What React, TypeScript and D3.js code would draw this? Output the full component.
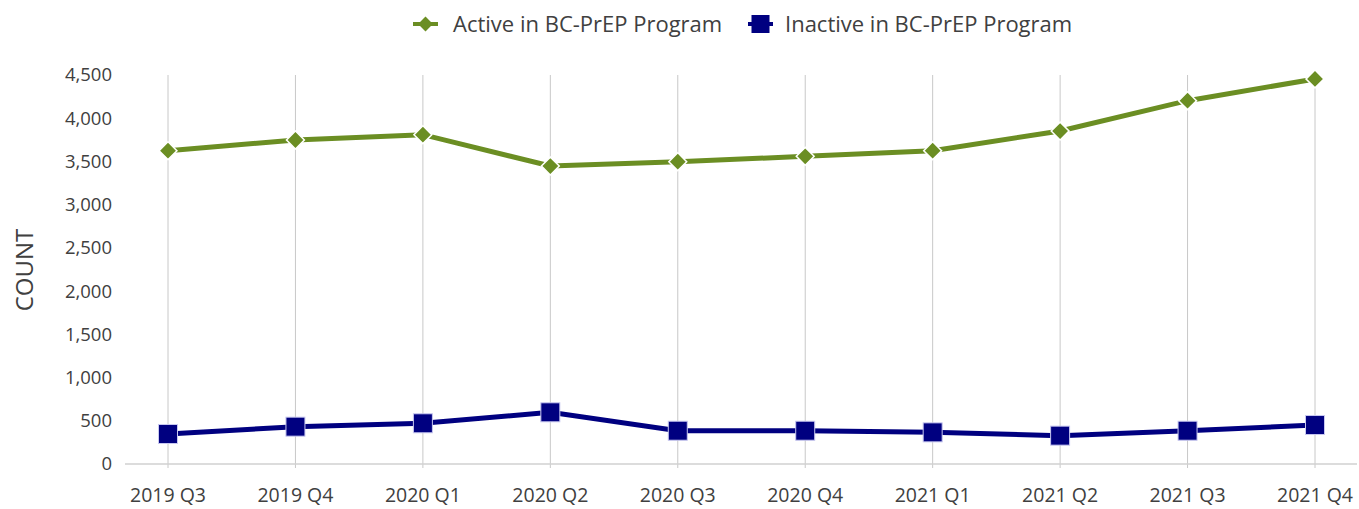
import { useEffect, useRef } from "react";
import * as d3 from "d3";

const quarters = [
	"2019 Q3", "2019 Q4", "2020 Q1", "2020 Q2", "2020 Q3",
	"2020 Q4", "2021 Q1", "2021 Q2", "2021 Q3", "2021 Q4",
];
const activeCounts = [3624, 3748, 3810, 3447, 3497, 3559, 3624, 3852, 4203, 4454];
const inactiveCounts = [347, 432, 471, 598, 385, 385, 366, 328, 385, 451];
const yTicks = [0, 500, 1000, 1500, 2000, 2500, 3000, 3500, 4000, 4500];
const seriesNames = ["Active in BC-PrEP Program", "Inactive in BC-PrEP Program"];

const WIDTH = 1359;
const HEIGHT = 509;
const GREEN = "#6b8e23";
const NAVY = "#000080";
const FONT = "'Open Sans', 'Noto Sans', sans-serif";

export default function App() {
	const svgRef = useRef<SVGSVGElement>(null);

	useEffect(() => {
		if (!svgRef.current) return;
		const svg = d3.select(svgRef.current);
		svg.selectAll("*").remove();

		const plotLeft = 125;
		const plotRight = 1357;
		const x = d3.scalePoint<string>().domain(quarters).range([168, 1315]);
		const y = d3.scaleLinear().domain([0, 4500]).range([464, 75]);

		// vertical gridlines
		svg.append("g")
			.selectAll("line")
			.data(quarters)
			.join("line")
			.attr("x1", (d) => x(d)!)
			.attr("x2", (d) => x(d)!)
			.attr("y1", y(4500))
			.attr("y2", y(0) + 4)
			.attr("stroke", "#c8c8c8")
			.attr("stroke-width", 1);

		// x axis line
		svg.append("line")
			.attr("x1", plotLeft)
			.attr("x2", plotRight)
			.attr("y1", y(0))
			.attr("y2", y(0))
			.attr("stroke", "#d0d0d0")
			.attr("stroke-width", 1.5);

		// y tick labels
		svg.append("g")
			.selectAll("text")
			.data(yTicks)
			.join("text")
			.attr("x", 112)
			.attr("y", (d) => y(d))
			.attr("dy", "0.35em")
			.attr("text-anchor", "end")
			.attr("font-family", FONT)
			.attr("font-size", 18.5)
			.attr("fill", "#404040")
			.text((d) => d3.format(",")(d));

		// x tick labels
		svg.append("g")
			.selectAll("text")
			.data(quarters)
			.join("text")
			.attr("x", (d) => x(d)!)
			.attr("y", 502)
			.attr("text-anchor", "middle")
			.attr("font-family", FONT)
			.attr("font-size", 19.5)
			.attr("fill", "#404040")
			.text((d) => d);

		// y axis title
		svg.append("text")
			.attr("transform", `translate(33,270) rotate(-90)`)
			.attr("text-anchor", "middle")
			.attr("font-family", FONT)
			.attr("font-size", 24)
			.attr("fill", "#404040")
			.text("COUNT");

		const line = d3
			.line<number>()
			.x((_, i) => x(quarters[i])!)
			.y((d) => y(d));

		svg.append("path")
			.datum(activeCounts)
			.attr("fill", "none")
			.attr("stroke", GREEN)
			.attr("stroke-width", 5)
			.attr("d", line);

		svg.append("path")
			.datum(inactiveCounts)
			.attr("fill", "none")
			.attr("stroke", NAVY)
			.attr("stroke-width", 5)
			.attr("d", line);

		const diamond = d3.symbol().type(d3.symbolSquare).size(160);

		svg.append("g")
			.selectAll("path")
			.data(activeCounts)
			.join("path")
			.attr("d", diamond)
			.attr("transform", (d, i) => `translate(${x(quarters[i])},${y(d)}) rotate(45)`)
			.attr("fill", GREEN)
			.attr("stroke", "#ffffff")
			.attr("stroke-width", 1.5);

		svg.append("g")
			.selectAll("rect")
			.data(inactiveCounts)
			.join("rect")
			.attr("x", (_, i) => x(quarters[i])! - 9.5)
			.attr("y", (d) => y(d) - 9.5)
			.attr("width", 19)
			.attr("height", 19)
			.attr("fill", NAVY)
			.attr("stroke", "#c8c8f0")
			.attr("stroke-width", 1);

		// legend
		const legend = svg.append("g").attr("transform", "translate(0,24)");
		const items = [
			{ name: seriesNames[0], color: GREEN, lx: 413, tx: 453, shape: "diamond" },
			{ name: seriesNames[1], color: NAVY, lx: 748, tx: 785, shape: "square" },
		];
		items.forEach((it) => {
			legend.append("line")
				.attr("x1", it.lx)
				.attr("x2", it.lx + 25)
				.attr("y1", 0)
				.attr("y2", 0)
				.attr("stroke", it.color)
				.attr("stroke-width", 4);
			if (it.shape === "diamond") {
				legend.append("path")
					.attr("d", d3.symbol().type(d3.symbolSquare).size(110)())
					.attr("transform", `translate(${it.lx + 12.5},0) rotate(45)`)
					.attr("fill", it.color);
			} else {
				legend.append("rect")
					.attr("x", it.lx + 12.5 - 9)
					.attr("y", -9)
					.attr("width", 18)
					.attr("height", 18)
					.attr("fill", it.color);
			}
			legend.append("text")
				.attr("x", it.tx)
				.attr("y", 0)
				.attr("dy", "0.35em")
				.attr("font-family", FONT)
				.attr("font-size", 22)
				.attr("fill", "#404040")
				.text(it.name);
		});
	}, []);

	return (
		<svg
			ref={svgRef}
			width={WIDTH}
			height={HEIGHT}
			style={{ position: "absolute", left: 0, top: 0, background: "#fff" }}
		/>
	);
}
